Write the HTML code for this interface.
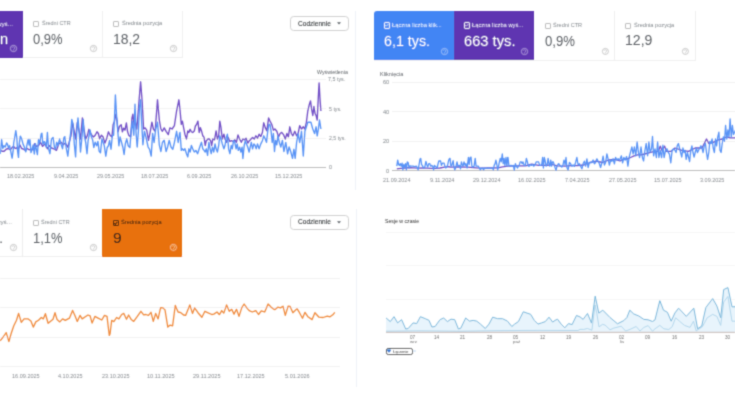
<!DOCTYPE html>
<html><head><meta charset="utf-8"><style>
html,body{margin:0;padding:0;}
body{width:735px;height:400px;overflow:hidden;background:#fff;position:relative;font-family:'Liberation Sans',sans-serif;}
#w{position:absolute;left:0;top:0;width:735px;height:400px;filter:url(#bl)}
.t{position:absolute;white-space:nowrap;line-height:1;transform-origin:0 0;font-family:'Liberation Sans',sans-serif;}
svg{overflow:visible}
</style></head><body><svg width="0" height="0" style="position:absolute"><filter id="bl" x="0" y="0" width="100%" height="100%"><feConvolveMatrix order="3" kernelMatrix="1 4 1 4 16 4 1 4 1" divisor="36.0" edgeMode="duplicate" preserveAlpha="false"/></filter></svg><div id="w">
<div style="position:absolute;left:355px;top:10.5px;width:1px;height:179.5px;background:#eef2f7;"></div><div style="position:absolute;left:-57px;top:11px;width:80px;height:47px;background:#5e35b1;"></div><div style="position:absolute;left:23px;top:57px;width:159.5px;height:1px;background:#efefef;"></div><div style="position:absolute;left:102.3px;top:11px;width:0.8px;height:46.5px;background:#f0f0f0;"></div><div style="position:absolute;left:182.2px;top:11px;width:0.8px;height:46.5px;background:#f0f0f0;"></div><div class="t" style="left:-43.44px;top:20.80px;font-size:24.00px;color:#ffffff;font-weight:normal;transform:scale(0.2625,0.2500);">Łączna liczba wyś...</div><div class="t" style="left:0.35px;top:31.99px;font-size:58.40px;color:#ffffff;font-weight:normal;transform:scale(0.2500,0.2500);">n</div><svg style="position:absolute;left:9.20px;top:44.10px" width="9.00" height="9.00" viewBox="-4.50 -4.50 9.00 9.00"><circle cx="0" cy="0" r="3.15" fill="none" stroke="#cbbbe8" stroke-width="0.7"/><path d="M-1.22,-0.88 A1.26,1.26 0 1 1 0.35,0.70 L0,1.40" fill="none" stroke="#cbbbe8" stroke-width="0.63"/><circle cx="0" cy="2.17" r="0.35" fill="#cbbbe8"/></svg><div style="position:absolute;left:33.3px;top:20.6px;width:4.10px;height:4.20px;border:0.8px solid #bdbdbd;border-radius:1px;"></div><div class="t" style="left:41.73px;top:19.84px;font-size:22.40px;color:#80868b;font-weight:normal;transform:scale(0.2450,0.2500);">Średni CTR</div><div class="t" style="left:33.23px;top:31.94px;font-size:58.40px;color:#5f6368;font-weight:normal;transform:scale(0.2222,0.2500);">0,9%</div><svg style="position:absolute;left:88.80px;top:44.10px" width="9.00" height="9.00" viewBox="-4.50 -4.50 9.00 9.00"><circle cx="0" cy="0" r="3.15" fill="none" stroke="#b4b4b4" stroke-width="0.7"/><path d="M-1.22,-0.88 A1.26,1.26 0 1 1 0.35,0.70 L0,1.40" fill="none" stroke="#b4b4b4" stroke-width="0.63"/><circle cx="0" cy="2.17" r="0.35" fill="#b4b4b4"/></svg><div style="position:absolute;left:113.3px;top:20.5px;width:3.80px;height:4.10px;border:0.8px solid #bdbdbd;border-radius:1px;"></div><div class="t" style="left:121.62px;top:19.54px;font-size:22.40px;color:#80868b;font-weight:normal;transform:scale(0.2526,0.2500);">Średnia pozycja</div><div class="t" style="left:112.99px;top:31.99px;font-size:58.40px;color:#5f6368;font-weight:normal;transform:scale(0.2380,0.2500);">18,2</div><svg style="position:absolute;left:168.70px;top:44.10px" width="9.00" height="9.00" viewBox="-4.50 -4.50 9.00 9.00"><circle cx="0" cy="0" r="3.15" fill="none" stroke="#b4b4b4" stroke-width="0.7"/><path d="M-1.22,-0.88 A1.26,1.26 0 1 1 0.35,0.70 L0,1.40" fill="none" stroke="#b4b4b4" stroke-width="0.63"/><circle cx="0" cy="2.17" r="0.35" fill="#b4b4b4"/></svg><div style="position:absolute;left:290.2px;top:16px;width:57.00px;height:13.10px;border:0.8px solid #d0d0d0;border-radius:3.7px;"></div><div class="t" style="left:298.27px;top:19.68px;font-size:28.80px;color:#3c4043;font-weight:normal;transform:scale(0.2277,0.2500);-webkit-text-stroke:0.48px #3c4043;">Codziennie</div><svg style="position:absolute;left:337.2px;top:22.2px" width="4" height="3" viewBox="0 0 4 3"><path d="M0,0.2 L4,0.2 L2,2.6 Z" fill="#5f6368"/></svg><div style="position:absolute;left:0px;top:78.9px;width:325.7px;height:1px;background:#f3f3f3;"></div><div style="position:absolute;left:0px;top:108.3px;width:325.7px;height:1px;background:#f3f3f3;"></div><div style="position:absolute;left:0px;top:137.5px;width:325.7px;height:1px;background:#f3f3f3;"></div><div style="position:absolute;left:0px;top:166.8px;width:325.7px;height:1.2px;background:#bdbdbd;"></div><div class="t" style="left:317.05px;top:69.31px;font-size:21.60px;color:#5f6368;font-weight:normal;transform:scale(0.2450,0.2500);">Wyświetlenia</div><div class="t" style="left:328.13px;top:76.41px;font-size:21.60px;color:#80868b;font-weight:normal;transform:scale(0.2480,0.2500);">7,5 tys.</div><div class="t" style="left:328.79px;top:106.11px;font-size:21.60px;color:#80868b;font-weight:normal;transform:scale(0.2438,0.2500);">5 tys.</div><div class="t" style="left:328.74px;top:135.31px;font-size:21.60px;color:#80868b;font-weight:normal;transform:scale(0.2405,0.2500);">2,5 tys.</div><div class="t" style="left:328.68px;top:164.41px;font-size:21.60px;color:#80868b;font-weight:normal;transform:scale(0.2500,0.2500);">0</div><div class="t" style="left:7.21px;top:173.04px;font-size:22.40px;color:#878b90;font-weight:normal;transform:scale(0.2443,0.2500);">18.02.2025</div><div class="t" style="left:53.53px;top:173.04px;font-size:22.40px;color:#878b90;font-weight:normal;transform:scale(0.2437,0.2500);">9.04.2025</div><div class="t" style="left:97.08px;top:173.04px;font-size:22.40px;color:#878b90;font-weight:normal;transform:scale(0.2428,0.2500);">29.05.2025</div><div class="t" style="left:141.11px;top:173.04px;font-size:22.40px;color:#878b90;font-weight:normal;transform:scale(0.2443,0.2500);">18.07.2025</div><div class="t" style="left:187.33px;top:173.04px;font-size:22.40px;color:#878b90;font-weight:normal;transform:scale(0.2437,0.2500);">6.09.2025</div><div class="t" style="left:230.78px;top:173.04px;font-size:22.40px;color:#878b90;font-weight:normal;transform:scale(0.2428,0.2500);">26.10.2025</div><div class="t" style="left:275.21px;top:173.04px;font-size:22.40px;color:#878b90;font-weight:normal;transform:scale(0.2443,0.2500);">15.12.2025</div><div style="position:absolute;left:373.6px;top:60px;width:322.4px;height:0.8px;background:#f0f0f0;"></div><div style="position:absolute;left:614.4px;top:10.8px;width:0.8px;height:49.5px;background:#efefef;"></div><div style="position:absolute;left:695.2px;top:10.8px;width:0.8px;height:49.5px;background:#efefef;"></div><div style="position:absolute;left:373.6px;top:10.8px;width:80.4px;height:49.5px;background:#4285f4;border-top-left-radius:3px;"></div><div style="position:absolute;left:454px;top:10.8px;width:80.4px;height:49.5px;background:#5e35b1;"></div><div style="position:absolute;left:384px;top:22.2px;width:4.20px;height:4.40px;border:0.8px solid #e3edfd;border-radius:1px;"></div><svg style="position:absolute;left:384px;top:22.2px" width="5.8" height="6" viewBox="0 0 10 10" preserveAspectRatio="none"><path d="M2.2,5.0 L4.2,7.0 L7.9,3.0" fill="none" stroke="#e3edfd" stroke-width="1.6"/></svg><div class="t" style="left:391.94px;top:21.90px;font-size:24.00px;color:#ffffff;font-weight:normal;transform:scale(0.2399,0.2500);">Łączna liczba klik...</div><div class="t" style="left:383.79px;top:33.79px;font-size:58.40px;color:#ffffff;font-weight:normal;transform:scale(0.2446,0.2500);">6,1 tys.</div><svg style="position:absolute;left:439.50px;top:46.50px" width="9.00" height="9.00" viewBox="-4.50 -4.50 9.00 9.00"><circle cx="0" cy="0" r="3.15" fill="none" stroke="#b8d0fb" stroke-width="0.7"/><path d="M-1.22,-0.88 A1.26,1.26 0 1 1 0.35,0.70 L0,1.40" fill="none" stroke="#b8d0fb" stroke-width="0.63"/><circle cx="0" cy="2.17" r="0.35" fill="#b8d0fb"/></svg><div style="position:absolute;left:464.2px;top:22.2px;width:4.20px;height:4.40px;border:0.8px solid #e6ddf5;border-radius:1px;"></div><svg style="position:absolute;left:464.2px;top:22.2px" width="5.8" height="6" viewBox="0 0 10 10" preserveAspectRatio="none"><path d="M2.2,5.0 L4.2,7.0 L7.9,3.0" fill="none" stroke="#e6ddf5" stroke-width="1.6"/></svg><div class="t" style="left:472.44px;top:21.90px;font-size:24.00px;color:#ffffff;font-weight:normal;transform:scale(0.2394,0.2500);">Łączna liczba wyś...</div><div class="t" style="left:463.86px;top:33.79px;font-size:58.40px;color:#ffffff;font-weight:normal;transform:scale(0.2518,0.2500);">663 tys.</div><svg style="position:absolute;left:520.00px;top:46.50px" width="9.00" height="9.00" viewBox="-4.50 -4.50 9.00 9.00"><circle cx="0" cy="0" r="3.15" fill="none" stroke="#c5b3e6" stroke-width="0.7"/><path d="M-1.22,-0.88 A1.26,1.26 0 1 1 0.35,0.70 L0,1.40" fill="none" stroke="#c5b3e6" stroke-width="0.63"/><circle cx="0" cy="2.17" r="0.35" fill="#c5b3e6"/></svg><div style="position:absolute;left:545.3px;top:22.5px;width:3.90px;height:4.20px;border:0.8px solid #bdbdbd;border-radius:1px;"></div><div class="t" style="left:552.92px;top:22.24px;font-size:22.40px;color:#80868b;font-weight:normal;transform:scale(0.2485,0.2500);">Średni CTR</div><div class="t" style="left:544.77px;top:33.69px;font-size:58.40px;color:#5f6368;font-weight:normal;transform:scale(0.2257,0.2500);">0,9%</div><svg style="position:absolute;left:601.00px;top:46.50px" width="8.80" height="8.80" viewBox="-4.40 -4.40 8.80 8.80"><circle cx="0" cy="0" r="3.05" fill="none" stroke="#b4b4b4" stroke-width="0.7"/><path d="M-1.19,-0.85 A1.22,1.22 0 1 1 0.34,0.68 L0,1.36" fill="none" stroke="#b4b4b4" stroke-width="0.63"/><circle cx="0" cy="2.11" r="0.34" fill="#b4b4b4"/></svg><div style="position:absolute;left:625.4px;top:22.5px;width:3.90px;height:4.40px;border:0.8px solid #bdbdbd;border-radius:1px;"></div><div class="t" style="left:633.62px;top:22.14px;font-size:22.40px;color:#80868b;font-weight:normal;transform:scale(0.2526,0.2500);">Średnia pozycja</div><div class="t" style="left:625.37px;top:33.49px;font-size:58.40px;color:#5f6368;font-weight:normal;transform:scale(0.2409,0.2500);">12,9</div><svg style="position:absolute;left:681.40px;top:46.60px" width="8.80" height="8.80" viewBox="-4.40 -4.40 8.80 8.80"><circle cx="0" cy="0" r="3.05" fill="none" stroke="#b4b4b4" stroke-width="0.7"/><path d="M-1.19,-0.85 A1.22,1.22 0 1 1 0.34,0.68 L0,1.36" fill="none" stroke="#b4b4b4" stroke-width="0.63"/><circle cx="0" cy="2.11" r="0.34" fill="#b4b4b4"/></svg><div class="t" style="left:379.66px;top:71.14px;font-size:22.40px;color:#5f6368;font-weight:normal;transform:scale(0.2459,0.2500);">Kliknięcia</div><div style="position:absolute;left:391.5px;top:81.5px;width:344px;height:1px;background:#f2f2f2;"></div><div class="t" style="left:383.11px;top:79.14px;font-size:22.40px;color:#80868b;font-weight:normal;transform:scale(0.2500,0.2500);">60</div><div style="position:absolute;left:391.5px;top:111.0px;width:344px;height:1px;background:#f2f2f2;"></div><div class="t" style="left:383.11px;top:108.64px;font-size:22.40px;color:#80868b;font-weight:normal;transform:scale(0.2500,0.2500);">40</div><div style="position:absolute;left:391.5px;top:140.5px;width:344px;height:1px;background:#f2f2f2;"></div><div class="t" style="left:383.11px;top:138.14px;font-size:22.40px;color:#80868b;font-weight:normal;transform:scale(0.2500,0.2500);">20</div><div style="position:absolute;left:392.2px;top:169.8px;width:343px;height:1.2px;background:#bdbdbd;"></div><div class="t" style="left:385.69px;top:167.84px;font-size:22.40px;color:#80868b;font-weight:normal;transform:scale(0.2500,0.2500);">0</div><div class="t" style="left:383.33px;top:177.04px;font-size:22.40px;color:#878b90;font-weight:normal;transform:scale(0.2450,0.2500);">21.09.2024</div><div class="t" style="left:429.52px;top:177.04px;font-size:22.40px;color:#878b90;font-weight:normal;transform:scale(0.2498,0.2500);">9.11.2024</div><div class="t" style="left:473.23px;top:177.04px;font-size:22.40px;color:#878b90;font-weight:normal;transform:scale(0.2450,0.2500);">29.12.2024</div><div class="t" style="left:517.86px;top:177.04px;font-size:22.40px;color:#878b90;font-weight:normal;transform:scale(0.2470,0.2500);">16.02.2025</div><div class="t" style="left:565.22px;top:177.04px;font-size:22.40px;color:#878b90;font-weight:normal;transform:scale(0.2457,0.2500);">7.04.2025</div><div class="t" style="left:608.53px;top:177.04px;font-size:22.40px;color:#878b90;font-weight:normal;transform:scale(0.2455,0.2500);">27.05.2025</div><div class="t" style="left:653.86px;top:177.04px;font-size:22.40px;color:#878b90;font-weight:normal;transform:scale(0.2470,0.2500);">15.07.2025</div><div class="t" style="left:699.88px;top:177.04px;font-size:22.40px;color:#878b90;font-weight:normal;transform:scale(0.2452,0.2500);">3.09.2025</div><div style="position:absolute;left:355.5px;top:209.2px;width:1px;height:177.5px;background:#eef2f7;"></div><div style="position:absolute;left:-57px;top:256px;width:239.5px;height:1px;background:#efefef;"></div><div style="position:absolute;left:22.2px;top:209px;width:0.8px;height:47.5px;background:#ececec;"></div><div class="t" style="left:-43.64px;top:218.70px;font-size:24.00px;color:#80868b;font-weight:normal;transform:scale(0.2625,0.2500);">Łączna liczba wyś...</div><div class="t" style="left:-0.77px;top:231.19px;font-size:58.40px;color:#5f6368;font-weight:normal;transform:scale(0.2500,0.2500);">.</div><svg style="position:absolute;left:9.00px;top:243.00px" width="9.00" height="9.00" viewBox="-4.50 -4.50 9.00 9.00"><circle cx="0" cy="0" r="3.15" fill="none" stroke="#b4b4b4" stroke-width="0.7"/><path d="M-1.22,-0.88 A1.26,1.26 0 1 1 0.35,0.70 L0,1.40" fill="none" stroke="#b4b4b4" stroke-width="0.63"/><circle cx="0" cy="2.17" r="0.35" fill="#b4b4b4"/></svg><div style="position:absolute;left:33.2px;top:220px;width:4.00px;height:3.90px;border:0.8px solid #bdbdbd;border-radius:1px;"></div><div class="t" style="left:41.23px;top:219.24px;font-size:22.40px;color:#80868b;font-weight:normal;transform:scale(0.2450,0.2500);">Średni CTR</div><div class="t" style="left:32.96px;top:231.19px;font-size:58.40px;color:#5f6368;font-weight:normal;transform:scale(0.2220,0.2500);">1,1%</div><svg style="position:absolute;left:88.50px;top:243.10px" width="9.00" height="9.00" viewBox="-4.50 -4.50 9.00 9.00"><circle cx="0" cy="0" r="3.15" fill="none" stroke="#b4b4b4" stroke-width="0.7"/><path d="M-1.22,-0.88 A1.26,1.26 0 1 1 0.35,0.70 L0,1.40" fill="none" stroke="#b4b4b4" stroke-width="0.63"/><circle cx="0" cy="2.17" r="0.35" fill="#b4b4b4"/></svg><div style="position:absolute;left:102.4px;top:209px;width:79.7px;height:48px;background:#e8710a;"></div><div style="position:absolute;left:113.3px;top:219.5px;width:3.90px;height:4.70px;border:0.8px solid #3b2410;border-radius:1px;"></div><svg style="position:absolute;left:113.3px;top:219.5px" width="5.5" height="6.3" viewBox="0 0 10 10" preserveAspectRatio="none"><path d="M2.2,5.0 L4.2,7.0 L7.9,3.0" fill="none" stroke="#3b2410" stroke-width="1.6"/></svg><div class="t" style="left:121.41px;top:218.74px;font-size:22.40px;color:#2b1a0b;font-weight:normal;transform:scale(0.2545,0.2500);">Średnia pozycja</div><div class="t" style="left:113.02px;top:230.99px;font-size:58.40px;color:#1c1c1c;font-weight:normal;transform:scale(0.2680,0.2500);">9</div><svg style="position:absolute;left:168.60px;top:243.40px" width="8.80" height="8.80" viewBox="-4.40 -4.40 8.80 8.80"><circle cx="0" cy="0" r="3.05" fill="none" stroke="#fde0c5" stroke-width="0.7"/><path d="M-1.19,-0.85 A1.22,1.22 0 1 1 0.34,0.68 L0,1.36" fill="none" stroke="#fde0c5" stroke-width="0.63"/><circle cx="0" cy="2.11" r="0.34" fill="#fde0c5"/></svg><div style="position:absolute;left:290.2px;top:214.7px;width:57.00px;height:13.10px;border:0.8px solid #d0d0d0;border-radius:3.7px;"></div><div class="t" style="left:298.27px;top:218.38px;font-size:28.80px;color:#3c4043;font-weight:normal;transform:scale(0.2277,0.2500);-webkit-text-stroke:0.48px #3c4043;">Codziennie</div><svg style="position:absolute;left:337.2px;top:220.89999999999998px" width="4" height="3" viewBox="0 0 4 3"><path d="M0,0.2 L4,0.2 L2,2.6 Z" fill="#5f6368"/></svg><div style="position:absolute;left:0px;top:278.1px;width:339.8px;height:1px;background:#f2f2f2;"></div><div style="position:absolute;left:0px;top:307.1px;width:339.8px;height:1px;background:#f2f2f2;"></div><div style="position:absolute;left:0px;top:336.7px;width:339.8px;height:1px;background:#f2f2f2;"></div><div style="position:absolute;left:0px;top:365.8px;width:339.8px;height:1px;background:#f2f2f2;"></div><div class="t" style="left:12.06px;top:372.84px;font-size:22.40px;color:#878b90;font-weight:normal;transform:scale(0.2470,0.2500);">16.09.2025</div><div class="t" style="left:58.29px;top:372.84px;font-size:22.40px;color:#878b90;font-weight:normal;transform:scale(0.2461,0.2500);">4.10.2025</div><div class="t" style="left:102.33px;top:372.84px;font-size:22.40px;color:#878b90;font-weight:normal;transform:scale(0.2455,0.2500);">23.10.2025</div><div class="t" style="left:147.15px;top:372.84px;font-size:22.40px;color:#878b90;font-weight:normal;transform:scale(0.2506,0.2500);">10.11.2025</div><div class="t" style="left:193.32px;top:372.84px;font-size:22.40px;color:#878b90;font-weight:normal;transform:scale(0.2490,0.2500);">29.11.2025</div><div class="t" style="left:237.36px;top:372.84px;font-size:22.40px;color:#878b90;font-weight:normal;transform:scale(0.2470,0.2500);">17.12.2025</div><div class="t" style="left:285.18px;top:372.84px;font-size:22.40px;color:#878b90;font-weight:normal;transform:scale(0.2478,0.2500);">5.01.2026</div><div class="t" style="left:384.54px;top:217.63px;font-size:24.80px;color:#333333;font-weight:normal;transform:scale(0.2078,0.2500);">Sesje w czasie</div><div style="position:absolute;left:386px;top:231.8px;width:349px;height:1px;background:#f6f6f6;"></div><div style="position:absolute;left:386px;top:265.3px;width:349px;height:1px;background:#f6f6f6;"></div><div style="position:absolute;left:386px;top:298.8px;width:349px;height:1px;background:#f6f6f6;"></div><div class="t" style="left:409.57px;top:335.29px;font-size:18.40px;color:#6f6f6f;font-weight:normal;transform:scale(0.2500,0.2500);">07</div><div class="t" style="left:433.63px;top:335.29px;font-size:18.40px;color:#6f6f6f;font-weight:normal;transform:scale(0.2500,0.2500);">14</div><div class="t" style="left:459.85px;top:335.29px;font-size:18.40px;color:#6f6f6f;font-weight:normal;transform:scale(0.2500,0.2500);">21</div><div class="t" style="left:487.02px;top:335.29px;font-size:18.40px;color:#6f6f6f;font-weight:normal;transform:scale(0.2500,0.2500);">28</div><div class="t" style="left:512.55px;top:335.29px;font-size:18.40px;color:#6f6f6f;font-weight:normal;transform:scale(0.2500,0.2500);">05</div><div class="t" style="left:539.68px;top:335.29px;font-size:18.40px;color:#6f6f6f;font-weight:normal;transform:scale(0.2500,0.2500);">12</div><div class="t" style="left:566.28px;top:335.29px;font-size:18.40px;color:#6f6f6f;font-weight:normal;transform:scale(0.2500,0.2500);">19</div><div class="t" style="left:593.02px;top:335.29px;font-size:18.40px;color:#6f6f6f;font-weight:normal;transform:scale(0.2500,0.2500);">26</div><div class="t" style="left:619.07px;top:335.29px;font-size:18.40px;color:#6f6f6f;font-weight:normal;transform:scale(0.2500,0.2500);">02</div><div class="t" style="left:645.47px;top:335.29px;font-size:18.40px;color:#6f6f6f;font-weight:normal;transform:scale(0.2500,0.2500);">09</div><div class="t" style="left:671.85px;top:335.29px;font-size:18.40px;color:#6f6f6f;font-weight:normal;transform:scale(0.2500,0.2500);">16</div><div class="t" style="left:698.92px;top:335.29px;font-size:18.40px;color:#6f6f6f;font-weight:normal;transform:scale(0.2500,0.2500);">23</div><div class="t" style="left:725.15px;top:335.29px;font-size:18.40px;color:#6f6f6f;font-weight:normal;transform:scale(0.2500,0.2500);">30</div><div class="t" style="left:410.00px;top:338.76px;font-size:17.60px;color:#6f6f6f;font-weight:normal;transform:scale(0.2500,0.2500);">wrz</div><div class="t" style="left:513.19px;top:338.76px;font-size:17.60px;color:#6f6f6f;font-weight:normal;transform:scale(0.2500,0.2500);">paź</div><div class="t" style="left:620.09px;top:338.76px;font-size:17.60px;color:#6f6f6f;font-weight:normal;transform:scale(0.2500,0.2500);">lis</div><div style="position:absolute;left:386.3px;top:348.2px;width:24.7px;height:4.8px;border:0.8px solid #505050;border-radius:2.2px;background:#fff"></div><svg style="position:absolute;left:386.8px;top:348.5px" width="4" height="4" viewBox="0 0 10 10"><path d="M5,9.5 L0.8,4.8 A2.4,2.4 0 0 1 5,1.6 A2.4,2.4 0 0 1 9.2,4.8 Z" fill="#1a6fcf"/></svg><div class="t" style="left:393.26px;top:350.07px;font-size:15.20px;color:#333333;font-weight:normal;transform:scale(0.2548,0.2500);">Łączenie</div><div style="position:absolute;left:413.4px;top:349.9px;width:2.6px;height:2.6px;border-radius:50%;background:#d9e8f7"></div>
<svg style="position:absolute;left:0;top:0" width="735" height="400"><path d="M0.0,150.5 L2.1,151.2 L4.1,151.2 L6.2,149.2 L8.2,148.5 L10.3,149.8 L12.4,147.1 L13.7,146.4 L15.1,148.5 L16.5,147.8 L18.1,149.8 L19.9,145.0 L21.7,148.5 L23.6,149.2 L25.4,150.5 L27.2,148.5 L29.1,149.8 L30.9,149.2 L33.0,149.8 L34.6,143.7 L36.4,146.4 L38.5,145.7 L40.5,142.3 L42.6,146.4 L44.6,144.3 L45.0,143.9 L47.4,148.8 L49.1,145.5 L51.5,148.0 L53.9,148.8 L56.4,150.4 L58.8,143.9 L61.3,142.3 L63.2,144.7 L65.3,143.1 L67.8,147.2 L69.4,141.5 L71.0,135.8 L72.6,122.8 L73.9,129.3 L75.6,139.0 L77.2,122.8 L78.8,129.3 L80.5,139.0 L82.4,117.9 L84.0,129.3 L85.7,139.0 L87.3,135.8 L88.9,129.3 L90.0,131.8 L91.8,135.2 L93.5,137.0 L95.2,135.2 L97.0,131.8 L98.4,133.5 L99.6,138.8 L101.4,135.2 L103.1,137.0 L104.9,143.1 L106.6,138.8 L108.4,131.8 L110.1,135.2 L111.9,137.0 L113.1,124.8 L114.5,121.2 L115.9,114.2 L117.1,121.2 L118.0,131.8 L119.4,126.5 L121.2,124.8 L122.4,131.8 L123.6,128.2 L125.0,130.0 L126.4,123.0 L127.6,131.8 L128.8,135.2 L130.6,137.0 L132.0,117.8 L132.9,114.2 L134.1,124.8 L135.0,120.0 L136.8,129.0 L138.4,108.8 L140.6,81.8 L142.2,102.0 L143.6,129.0 L145.1,127.9 L146.7,130.1 L148.5,140.3 L150.3,131.3 L151.9,122.2 L153.4,129.0 L155.2,131.3 L157.5,99.8 L159.3,120.0 L160.9,129.0 L162.4,131.3 L164.2,127.9 L166.1,131.3 L168.3,134.6 L169.9,127.9 L172.1,129.0 L174.4,125.6 L176.6,111.0 L178.9,99.8 L180.0,109.8 L181.3,124.4 L182.4,121.1 L183.6,127.6 L184.9,134.2 L186.5,139.0 L187.8,130.9 L188.9,132.5 L190.1,129.3 L191.4,131.7 L192.7,132.5 L194.3,130.9 L195.4,126.0 L196.6,124.4 L197.9,121.1 L199.2,132.5 L200.3,127.6 L201.5,130.9 L202.8,135.8 L204.1,137.4 L205.2,145.5 L206.3,140.7 L208.0,139.0 L209.3,139.0 L210.6,140.7 L211.7,145.5 L212.8,139.0 L214.5,139.8 L216.1,130.9 L217.4,139.0 L218.7,135.8 L219.8,121.1 L221.0,127.6 L222.3,139.0 L223.9,134.2 L225.0,139.0 L226.6,142.3 L228.2,137.4 L229.9,141.5 L231.5,140.7 L233.1,141.5 L234.8,139.8 L236.4,142.3 L238.0,135.0 L239.6,139.0 L241.3,142.3 L242.9,139.0 L244.5,139.8 L246.1,138.2 L247.8,143.1 L249.4,140.7 L251.0,139.0 L252.6,137.4 L254.3,139.0 L255.9,135.8 L257.5,138.2 L259.1,134.2 L260.8,136.6 L262.4,132.5 L263.7,122.8 L265.3,127.6 L266.9,130.9 L268.6,117.9 L270.0,121.1 L271.8,124.5 L273.4,130.1 L274.9,129.0 L276.8,131.3 L278.6,136.9 L280.1,133.5 L281.7,132.4 L283.5,134.6 L285.3,139.1 L286.9,133.5 L288.4,136.9 L289.8,126.8 L291.4,133.5 L292.9,135.8 L294.8,131.3 L296.6,135.8 L298.1,133.5 L299.7,125.6 L301.5,129.0 L303.3,126.8 L304.9,129.0 L306.4,122.2 L307.8,111.0 L309.4,104.2 L310.5,100.9 L311.6,108.8 L312.8,115.5 L313.9,106.5 L315.0,113.2 L316.1,115.5 L317.2,120.0 L318.4,95.2 L319.1,82.9 L319.9,97.5 L320.9,111.0" fill="none" stroke="#7250c6" stroke-width="1.35" stroke-linejoin="round"/><path d="M0.0,154.0 L0.7,149.8 L1.6,139.5 L2.8,148.5 L3.9,145.7 L5.2,147.1 L6.6,143.0 L7.5,144.3 L8.5,147.8 L9.6,145.7 L10.7,151.2 L12.1,158.1 L13.1,151.2 L13.7,143.0 L14.8,136.8 L15.8,130.6 L16.8,137.5 L17.6,151.2 L18.5,157.4 L19.2,144.3 L20.3,136.1 L21.7,138.8 L23.1,144.3 L24.4,147.1 L25.8,151.9 L26.8,145.7 L28.2,139.5 L29.1,145.0 L29.9,139.5 L31.0,152.6 L32.3,148.5 L33.2,145.0 L34.3,154.0 L35.4,143.7 L36.4,149.8 L37.4,154.6 L38.5,139.5 L39.8,143.0 L41.2,134.0 L41.9,133.3 L42.9,144.3 L44.2,141.6 L45.0,142.3 L46.3,147.2 L47.4,132.5 L48.6,148.8 L49.9,153.7 L51.5,139.0 L53.1,137.4 L54.4,147.2 L55.6,148.8 L56.7,142.3 L58.0,145.5 L59.6,139.0 L60.9,143.9 L62.6,148.8 L63.7,138.2 L64.8,136.6 L66.1,147.2 L67.8,156.1 L69.4,142.3 L70.7,132.5 L71.8,119.5 L73.0,124.4 L74.3,143.9 L75.6,156.9 L76.7,132.5 L78.0,117.9 L79.2,132.5 L80.5,152.0 L82.1,135.8 L83.2,119.5 L84.3,135.8 L85.7,142.3 L87.0,153.7 L88.1,140.7 L89.2,135.0 L90.0,130.0 L91.4,137.0 L92.6,139.6 L93.8,147.5 L95.2,142.2 L96.7,145.8 L97.9,141.4 L99.1,151.0 L100.5,152.8 L101.9,138.8 L103.1,142.2 L104.3,145.8 L105.8,156.2 L107.2,147.5 L108.4,145.8 L109.6,140.5 L111.0,149.2 L112.4,135.2 L113.6,135.2 L114.5,117.8 L115.4,95.0 L116.6,116.0 L117.7,130.0 L118.9,145.8 L120.1,137.0 L121.5,142.2 L122.9,147.5 L124.1,154.5 L125.3,144.0 L126.8,138.8 L128.2,145.8 L129.9,147.5 L131.1,131.8 L132.3,121.2 L133.8,135.2 L135.0,104.2 L136.1,133.5 L137.2,147.0 L138.4,131.3 L139.5,106.5 L140.6,99.8 L141.8,124.5 L142.9,144.8 L144.4,131.3 L146.2,138.0 L148.1,147.0 L149.6,149.3 L151.2,156.0 L152.6,133.5 L154.1,142.5 L155.7,129.0 L157.5,122.2 L159.3,144.8 L160.9,151.5 L162.4,142.5 L164.2,140.3 L166.1,151.5 L167.6,147.0 L169.2,140.3 L171.0,147.0 L172.8,149.3 L174.4,142.5 L176.6,131.3 L178.2,142.5 L179.6,133.5 L180.0,132.5 L181.3,150.4 L182.4,148.8 L183.6,150.4 L184.9,148.8 L186.5,153.7 L187.8,156.9 L188.9,148.8 L190.1,152.0 L191.4,145.5 L192.7,148.8 L194.3,152.0 L195.9,150.4 L197.6,153.7 L199.2,148.8 L200.3,145.5 L201.5,142.3 L202.8,148.8 L204.1,150.4 L205.2,152.0 L206.3,148.8 L207.6,155.3 L208.9,142.3 L210.1,148.8 L211.2,153.7 L212.5,147.2 L213.8,152.0 L215.0,143.9 L216.1,148.8 L217.4,152.0 L218.7,145.5 L219.8,135.8 L221.0,139.0 L222.3,143.9 L223.9,148.8 L225.0,145.5 L226.3,137.4 L227.4,134.2 L228.6,148.8 L229.9,153.7 L231.2,145.5 L232.3,148.8 L233.5,140.7 L234.8,142.3 L236.1,148.8 L237.2,143.9 L238.3,150.4 L239.6,147.2 L240.9,152.0 L242.1,147.2 L242.9,158.5 L244.2,145.5 L245.3,140.7 L246.5,143.9 L247.8,147.2 L249.1,152.0 L250.2,147.2 L251.3,142.3 L252.6,148.8 L253.9,143.9 L255.1,145.5 L256.2,148.8 L257.5,143.9 L259.1,148.8 L260.8,143.9 L262.4,140.7 L263.7,135.8 L265.3,139.0 L266.5,142.3 L267.6,132.5 L268.9,124.4 L270.0,124.5 L271.1,131.3 L272.2,142.5 L273.4,133.5 L274.5,151.5 L275.6,140.3 L276.8,144.8 L277.9,135.8 L279.4,142.5 L280.8,147.0 L282.4,140.3 L283.9,151.5 L285.8,142.5 L287.6,153.8 L289.1,147.0 L290.7,151.5 L292.5,158.3 L293.9,149.3 L295.2,158.3 L296.6,142.5 L298.1,133.5 L299.7,142.5 L301.5,131.3 L303.3,156.0 L304.9,131.3 L306.4,126.8 L307.8,122.2 L309.4,122.2 L310.9,122.2 L312.8,129.0 L314.6,133.5 L316.1,126.8 L317.2,135.8 L318.4,129.0 L319.5,120.0 L320.9,129.0" fill="none" stroke="#5893f6" stroke-width="1.35" stroke-linejoin="round"/><path d="M396.8,168.9 L400.8,168.4 L405.1,168.0 L409.5,167.6 L413.9,167.8 L418.2,168.2 L422.6,168.0 L427.0,168.2 L431.4,168.4 L435.7,168.4 L440.1,168.0 L444.5,167.1 L448.9,166.7 L450.0,167.1 L458.8,166.9 L467.5,167.1 L476.2,167.8 L480.6,168.2 L489.4,168.0 L498.1,167.8 L502.5,166.9 L508.0,166.2 L516.8,165.8 L525.5,165.8 L531.6,164.1 L538.6,165.4 L547.4,165.4 L552.6,164.5 L557.0,165.8 L565.0,166.2 L571.2,165.6 L577.5,165.6 L583.8,165.0 L590.0,162.5 L596.2,161.2 L602.5,162.5 L608.8,160.0 L615.0,159.4 L620.0,161.0 L623.5,159.2 L627.0,159.2 L630.5,157.5 L634.0,155.8 L637.5,154.9 L641.0,154.9 L644.5,154.0 L648.0,153.1 L651.5,152.2 L655.0,151.4 L658.5,151.4 L660.2,146.1 L662.0,150.5 L664.6,146.1 L666.4,151.4 L670.8,151.4 L674.2,148.8 L675.0,148.0 L681.8,150.3 L688.5,151.4 L695.2,148.0 L702.0,148.0 L706.5,139.0 L708.8,143.5 L713.2,142.4 L717.8,140.1 L722.2,139.0 L726.8,136.8 L730.1,137.9 L735.8,137.9" fill="none" stroke="#7250c6" stroke-width="1.3" stroke-linejoin="round"/><path d="M396.8,166.2 L397.7,160.1 L398.6,164.5 L399.4,165.4 L400.3,163.6 L401.2,166.2 L402.1,163.2 L402.9,169.8 L403.8,164.5 L404.7,167.1 L405.6,163.6 L406.4,169.8 L407.3,161.9 L408.2,162.8 L409.1,168.0 L409.9,165.8 L411.2,166.2 L413.0,166.2 L414.8,166.7 L416.5,166.2 L417.4,168.0 L418.1,169.8 L419.1,164.5 L420.0,159.2 L420.7,158.4 L421.6,164.5 L422.6,166.2 L423.7,168.0 L424.8,167.1 L425.9,161.4 L426.8,164.5 L427.7,167.1 L428.8,163.6 L429.8,163.6 L430.7,166.2 L431.6,165.4 L432.7,166.2 L433.6,169.8 L434.4,165.4 L435.3,166.2 L436.2,167.1 L437.1,168.0 L437.9,164.5 L438.8,161.0 L439.7,161.0 L440.6,161.0 L441.4,165.4 L442.3,163.2 L443.2,163.2 L444.1,163.2 L444.9,166.2 L445.8,168.0 L446.7,167.1 L447.6,165.4 L448.7,160.1 L449.7,158.4 L450.0,158.4 L450.9,166.2 L451.8,165.4 L453.1,160.6 L453.9,167.1 L454.8,169.8 L455.7,168.0 L457.0,161.9 L457.9,166.2 L458.8,165.4 L459.6,165.4 L460.5,168.9 L461.4,161.9 L462.2,164.5 L463.1,166.2 L464.0,161.9 L465.1,165.4 L465.9,163.6 L467.1,168.0 L468.4,157.5 L469.2,164.5 L470.1,157.5 L471.0,157.1 L471.9,166.2 L472.9,167.1 L474.1,166.2 L475.2,158.4 L476.1,166.2 L477.1,166.2 L478.2,166.2 L479.3,168.0 L480.2,169.8 L481.1,168.0 L481.9,168.9 L482.8,168.0 L483.7,169.8 L484.6,168.0 L485.9,168.4 L487.2,168.0 L488.5,168.0 L489.8,168.4 L491.1,168.4 L492.4,168.0 L493.3,169.8 L494.2,165.4 L495.1,163.6 L495.9,160.1 L496.8,164.5 L497.7,169.8 L498.6,166.2 L499.4,161.9 L500.3,158.4 L501.2,161.9 L502.3,154.0 L503.2,163.6 L504.1,158.4 L504.9,165.4 L506.0,157.5 L506.9,166.2 L507.7,157.5 L508.0,157.5 L508.9,165.4 L509.8,166.2 L511.1,165.4 L512.4,166.2 L513.4,165.4 L514.3,170.2 L515.4,163.6 L516.3,166.2 L517.5,168.0 L518.3,166.2 L519.2,165.4 L520.2,161.9 L521.3,161.9 L522.2,163.6 L523.0,161.9 L524.2,165.4 L525.3,165.4 L526.4,158.4 L527.4,161.9 L528.3,166.2 L529.4,166.2 L530.6,164.5 L531.6,165.4 L532.7,164.5 L533.8,166.2 L535.1,164.5 L536.2,161.9 L537.3,161.9 L538.6,161.9 L539.7,165.4 L540.8,165.4 L541.7,164.5 L542.6,157.5 L543.4,168.0 L544.3,157.5 L545.2,161.0 L546.1,166.2 L547.2,164.5 L548.1,158.4 L548.9,163.6 L549.8,166.2 L550.7,160.1 L551.6,166.2 L552.4,161.9 L553.3,161.9 L554.4,165.4 L555.2,168.0 L556.1,170.2 L557.0,166.2 L557.9,164.5 L558.7,163.6 L559.8,165.4 L560.9,166.2 L561.8,167.1 L562.9,165.4 L564.0,160.1 L564.9,162.8 L565.0,165.0 L566.0,157.5 L566.9,167.5 L568.1,170.0 L569.4,162.5 L570.6,163.8 L571.9,166.2 L573.1,165.0 L574.4,166.2 L575.6,162.5 L576.9,157.5 L578.1,165.0 L579.4,163.8 L580.6,166.2 L581.9,168.8 L583.1,163.8 L584.4,161.2 L585.6,166.2 L586.9,158.8 L588.1,167.5 L589.4,162.5 L590.6,162.5 L591.9,162.5 L593.1,160.0 L594.4,163.8 L595.6,162.5 L596.9,158.8 L598.1,161.2 L599.4,163.8 L600.6,167.5 L601.9,162.5 L603.1,156.2 L604.4,165.0 L605.6,162.5 L606.9,153.8 L608.1,158.8 L609.4,165.0 L610.6,160.0 L611.9,161.2 L613.1,158.8 L614.4,163.8 L615.6,157.5 L616.9,160.0 L618.1,158.8 L619.4,160.0 L620.0,159.2 L621.4,155.8 L622.6,162.8 L623.9,157.5 L625.2,160.1 L626.6,156.6 L627.9,166.2 L629.1,157.5 L630.5,152.2 L631.9,147.0 L633.1,154.0 L634.4,147.0 L635.8,155.8 L637.1,141.8 L638.4,152.2 L639.6,157.5 L641.0,147.0 L642.4,157.5 L643.6,161.0 L644.9,150.5 L646.2,143.5 L647.6,155.8 L648.9,141.8 L650.1,152.2 L651.5,148.8 L652.5,136.5 L653.6,155.8 L655.0,148.8 L656.4,157.5 L657.6,141.8 L658.9,157.5 L660.2,150.5 L661.6,157.5 L662.9,145.2 L664.1,157.5 L665.5,150.5 L666.9,148.8 L668.1,152.2 L669.4,154.0 L670.8,162.8 L672.1,150.5 L673.4,148.8 L675.0,150.3 L676.1,152.5 L677.2,145.8 L678.4,143.5 L679.5,148.0 L680.6,152.5 L681.8,157.0 L682.9,148.0 L684.0,152.5 L685.1,150.3 L686.2,159.3 L687.4,152.5 L688.5,157.0 L689.6,161.5 L690.8,150.3 L691.9,145.8 L693.0,152.5 L694.1,157.0 L695.2,152.5 L696.4,148.0 L697.5,152.5 L698.6,150.3 L699.8,148.0 L700.9,145.8 L702.0,148.0 L703.1,152.5 L704.2,145.8 L705.4,143.5 L706.5,152.5 L707.6,159.3 L708.8,152.5 L709.9,141.3 L711.0,143.5 L712.1,139.0 L713.2,148.0 L714.4,152.5 L715.5,139.0 L716.6,145.8 L717.8,136.8 L718.9,132.2 L720.0,150.3 L721.1,152.5 L722.2,143.5 L723.4,136.8 L724.5,141.3 L725.6,125.5 L726.8,139.0 L727.9,130.0 L729.0,136.8 L730.1,118.8 L731.3,136.8 L732.4,125.5 L733.5,134.5 L735.8,130.0" fill="none" stroke="#5893f6" stroke-width="1.3" stroke-linejoin="round"/><path d="M0.0,340.9 L2.8,337.5 L6.2,332.6 L8.9,341.6 L11.0,334.0 L13.8,325.8 L16.5,320.3 L18.6,313.4 L21.3,322.3 L24.1,318.9 L28.2,318.9 L30.9,320.9 L33.3,327.1 L35.8,321.9 L38.5,320.3 L41.3,317.5 L43.3,318.9 L45.4,313.7 L48.1,323.3 L50.9,320.9 L53.0,319.2 L55.0,312.7 L57.1,319.6 L59.8,321.9 L62.6,318.9 L65.3,320.3 L69.4,318.2 L72.6,310.4 L74.9,315.4 L77.3,321.4 L80.0,315.4 L82.2,318.9 L85.3,316.8 L88.0,315.0 L90.1,315.9 L92.1,323.0 L94.9,316.4 L97.6,317.8 L101.8,320.0 L104.5,315.4 L107.0,316.4 L109.3,335.4 L110.0,334.0 L111.7,320.3 L113.8,321.6 L116.6,317.5 L118.9,318.9 L121.7,314.5 L123.8,313.4 L126.5,319.2 L128.6,315.0 L131.3,319.6 L133.7,321.4 L136.8,317.2 L140.9,311.3 L143.7,314.8 L145.8,314.5 L148.5,315.4 L151.0,312.3 L153.3,321.4 L155.7,313.4 L158.1,318.9 L160.6,307.6 L163.0,307.9 L165.0,309.9 L167.8,327.1 L170.2,325.1 L172.6,325.8 L175.3,305.4 L178.1,312.0 L180.8,312.7 L183.6,315.0 L185.6,315.4 L189.8,304.9 L192.5,313.4 L194.6,307.9 L198.0,312.7 L201.9,317.2 L204.9,311.3 L207.6,312.7 L211.8,314.5 L213.8,314.1 L217.0,312.0 L219.3,314.5 L220.0,313.7 L221.7,310.6 L223.8,313.1 L226.6,304.9 L229.3,311.3 L231.7,309.3 L234.0,314.1 L236.5,309.3 L239.0,316.4 L241.7,307.9 L244.1,304.0 L246.8,307.9 L249.2,310.6 L252.3,312.0 L255.8,310.6 L258.5,314.5 L261.3,310.9 L264.7,312.0 L268.1,304.0 L271.2,307.2 L273.9,309.3 L275.0,309.5 L277.8,307.2 L280.5,307.9 L283.0,306.2 L285.3,315.4 L288.1,306.2 L290.1,306.5 L292.9,312.7 L297.0,308.6 L299.5,312.7 L302.5,318.2 L305.0,312.3 L308.0,316.8 L312.1,319.6 L314.9,312.7 L319.0,317.2 L323.1,317.5 L327.3,316.1 L330.0,316.8 L332.8,314.8 L334.8,312.3" fill="none" stroke="#ef8a3d" stroke-width="1.3" stroke-linejoin="round"/><path d="M386.1,318.0 L390.3,321.6 L394.0,316.7 L397.6,322.9 L401.6,319.7 L405.7,329.0 L408.2,328.5 L413.1,322.9 L416.7,323.6 L420.4,316.7 L425.3,318.7 L429.0,320.4 L431.9,327.0 L435.1,326.5 L440.0,319.7 L443.7,318.0 L447.4,321.6 L451.0,319.2 L454.7,319.7 L458.4,329.0 L460.8,328.2 L465.7,318.0 L469.4,321.1 L473.1,320.4 L476.7,321.1 L480.4,324.1 L485.3,328.5 L489.0,324.1 L492.7,317.2 L497.6,318.7 L502.5,318.7 L507.4,321.1 L511.8,326.5 L514.7,324.1 L518.4,321.6 L523.3,311.8 L527.0,313.1 L530.6,314.3 L534.3,320.4 L538.0,324.1 L541.6,322.9 L545.3,321.6 L549.0,317.2 L552.7,322.1 L555.0,320.4 L557.5,319.2 L561.1,324.1 L564.8,327.8 L568.5,323.6 L572.1,324.6 L576.5,315.5 L580.0,316.9 L583.1,319.4 L587.5,313.5 L591.5,323.1 L595.2,296.2 L598.8,313.1 L602.8,310.2 L610.0,317.5 L617.5,323.8 L623.8,320.6 L626.9,317.5 L629.8,310.2 L633.8,314.0 L638.8,316.0 L643.8,319.4 L648.1,319.8 L652.5,321.5 L655.0,319.9 L659.8,300.6 L663.5,310.2 L667.4,312.3 L671.2,321.2 L674.9,313.0 L678.6,308.2 L686.3,316.4 L693.8,308.2 L697.6,328.8 L701.7,326.1 L705.9,307.5 L712.7,298.6 L716.9,306.1 L720.7,317.8 L723.7,289.6 L727.9,287.6 L732.0,306.8 L737.5,306.8 L737.47,332.5 L386.12,332.5 Z" fill="#e8f4fc" stroke="none"/><path d="M386.0,331.2 L420.0,330.8 L460.0,331.2 L500.0,330.6 L540.0,330.4 L578.0,330.5 L580.0,329.4 L583.8,329.4 L587.5,328.5 L591.9,330.2 L595.0,305.0 L596.9,313.8 L599.0,326.9 L602.5,324.4 L605.0,325.0 L610.0,329.8 L613.8,328.1 L621.2,326.2 L625.6,331.0 L630.0,329.4 L636.2,326.5 L640.0,331.0 L643.8,327.5 L648.1,325.6 L652.5,331.2 L655.0,328.8 L659.8,325.4 L663.9,328.8 L668.8,329.5 L672.2,326.7 L675.6,317.8 L679.5,321.2 L684.5,325.4 L690.0,327.4 L693.5,321.2 L696.2,330.9 L702.4,326.7 L707.2,317.8 L712.7,314.4 L716.9,316.4 L720.7,325.4 L723.7,302.0 L727.9,296.5 L732.0,321.2 L737.5,321.2" fill="none" stroke="#acd3ea" stroke-width="0.9"/><path d="M386.1,318.0 L390.3,321.6 L394.0,316.7 L397.6,322.9 L401.6,319.7 L405.7,329.0 L408.2,328.5 L413.1,322.9 L416.7,323.6 L420.4,316.7 L425.3,318.7 L429.0,320.4 L431.9,327.0 L435.1,326.5 L440.0,319.7 L443.7,318.0 L447.4,321.6 L451.0,319.2 L454.7,319.7 L458.4,329.0 L460.8,328.2 L465.7,318.0 L469.4,321.1 L473.1,320.4 L476.7,321.1 L480.4,324.1 L485.3,328.5 L489.0,324.1 L492.7,317.2 L497.6,318.7 L502.5,318.7 L507.4,321.1 L511.8,326.5 L514.7,324.1 L518.4,321.6 L523.3,311.8 L527.0,313.1 L530.6,314.3 L534.3,320.4 L538.0,324.1 L541.6,322.9 L545.3,321.6 L549.0,317.2 L552.7,322.1 L555.0,320.4 L557.5,319.2 L561.1,324.1 L564.8,327.8 L568.5,323.6 L572.1,324.6 L576.5,315.5 L580.0,316.9 L583.1,319.4 L587.5,313.5 L591.5,323.1 L595.2,296.2 L598.8,313.1 L602.8,310.2 L610.0,317.5 L617.5,323.8 L623.8,320.6 L626.9,317.5 L629.8,310.2 L633.8,314.0 L638.8,316.0 L643.8,319.4 L648.1,319.8 L652.5,321.5 L655.0,319.9 L659.8,300.6 L663.5,310.2 L667.4,312.3 L671.2,321.2 L674.9,313.0 L678.6,308.2 L686.3,316.4 L693.8,308.2 L697.6,328.8 L701.7,326.1 L705.9,307.5 L712.7,298.6 L716.9,306.1 L720.7,317.8 L723.7,289.6 L727.9,287.6 L732.0,306.8 L737.5,306.8" fill="none" stroke="#74b5da" stroke-width="1.0" stroke-linejoin="round"/><path d="M386,332.3 L735,332.3" stroke="#c4b2ae" stroke-width="0.9"/></svg>
</div></body></html>
